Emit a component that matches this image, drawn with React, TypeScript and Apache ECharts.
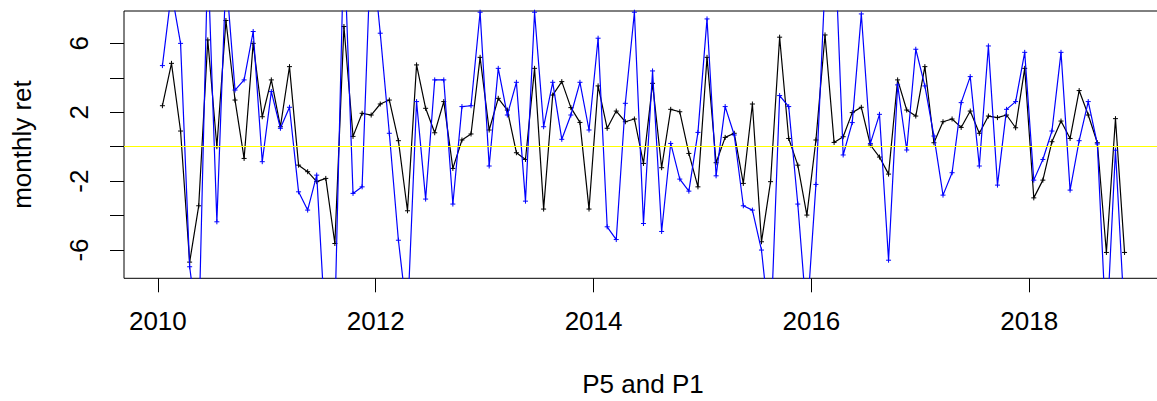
import React, { useEffect, useRef } from "react";
import * as echarts from "echarts";

const START_YEAR = 2010;

// black series (P5), monthly from Jan 2010
const p5: number[] = [
  2.38, 4.84, 0.91, -6.7, -3.43, 6.2, 0.0, 7.33, 2.71, -0.68, 6.0, 1.74,
  3.88, 1.16, 4.65, -1.07, -1.45, -2.03, -1.84, -5.62, 6.98, 0.6, 1.94, 1.84,
  2.48, 2.71, 0.35, -3.72, 4.75, 2.23, 0.81, 2.62, -1.26, 0.39, 0.74, 5.19,
  0.97, 2.81, 2.13, -0.35, -0.74, 4.55, -3.62, 3.0, 3.78, 2.27, 1.41, -3.62,
  3.53, 1.07, 2.07, 1.45, 1.61, -0.97, 3.68, -1.22, 2.17, 2.03, -0.39, -2.33,
  5.19, -0.93, 0.54, 0.78, -2.13, 2.48, -5.52, -2.03, 6.36, 0.48, -1.07, -3.97,
  0.39, 6.49, 0.25, 0.58, 1.98, 2.29, 0.1, -0.6, -1.59, 3.88, 2.13, 1.78,
  4.65, 0.23, 1.45, 1.61, 1.12, 2.07, 0.78, 1.78, 1.69, 1.84, 1.1, 4.55,
  -2.97, -1.94, 0.29, 1.49, 0.48, 3.26, 1.84, 0.23, -6.14, 1.63, -6.14,
];

// blue series (P1)
const p1: number[] = [
  4.71, 9.0, 6.0, -6.97, -11.0, 11.0, -4.36, 10.0, 3.29, 3.88, 6.69, -0.87,
  3.2, 1.07, 2.29, -2.62, -3.68, -1.65, -11.0, -10.0, 12.0, -2.71, -2.33, 12.0,
  6.59, 0.78, -5.43, -10.0, 2.62, -3.04, 3.88, 3.88, -3.33, 2.33, 2.38, 7.81,
  -1.12, 4.55, 1.84, 3.74, -3.16, 7.81, 1.16, 3.74, 0.43, 1.84, 3.74, 0.97,
  6.3, -4.65, -5.39, 2.52, 7.81, -4.46, 4.4, -4.92, 0.19, -1.88, -2.58, 0.83,
  7.42, -1.69, 2.33, 0.68, -3.43, -3.68, -6.0, -11.0, 2.97, 2.33, -3.33, -10.0,
  -2.19, 9.5, 13.0, -0.48, 1.4, 7.71, 0.19, 1.88, -6.59, 3.59, -0.19, 5.66,
  3.53, 0.62, -2.81, -1.51, 2.56, 4.07, -1.12, 5.85, -2.23, 2.17, 2.62, 5.48,
  -1.94, -0.74, 0.91, 5.48, -2.52, 0.35, 2.62, 0.16, -11.0, -0.2, -10.0,
];

const xTicks = [2010, 2012, 2014, 2016, 2018];
const yTicks = [-6, -4, -2, 0, 2, 4, 6];
const yLabels = [-6, -2, 2, 6];

const X_MIN = 2009.689;
const X_MAX = 2019.228;
const Y_MIN = -7.64;
const Y_MAX = 7.88;

const FONT = "'Liberation Sans', Arial, sans-serif";

const toPoints = (arr: number[]) =>
  arr.map((v, i) => [START_YEAR + (i + 0.5) / 12, v]);

const plusSymbol = "path://M5,0L5,10M0,5L10,5";

export default function App() {
  const ref = useRef<HTMLDivElement>(null);

  useEffect(() => {
    if (!ref.current) return;
    const chart = echarts.init(ref.current, null, { renderer: "svg" });
    chart.setOption({
      animation: false,
      backgroundColor: "#ffffff",
      grid: {
        left: 124,
        top: 11,
        width: 1039,
        height: 267.3,
        show: true,
        borderColor: "#000",
        borderWidth: 1,
        backgroundColor: "transparent",
        containLabel: false,
        outerBoundsMode: "none",
      },
      xAxis: {
        type: "value",
        min: X_MIN,
        max: X_MAX,
        position: "bottom",
        axisLine: { show: false, onZero: false },
        splitLine: { show: false },
        axisTick: {
          show: true,
          length: 14,
          customValues: xTicks,
          lineStyle: { color: "#000", width: 1 },
        },
        axisLabel: {
          customValues: xTicks,
          fontSize: 26,
          fontFamily: FONT,
          color: "#000",
          margin: 30,
          formatter: (v: number) => String(Math.round(v)),
        },
      },
      yAxis: {
        type: "value",
        min: Y_MIN,
        max: Y_MAX,
        position: "left",
        axisLine: { show: false, onZero: false },
        splitLine: { show: false },
        axisTick: {
          show: true,
          length: 14,
          customValues: yTicks,
          lineStyle: { color: "#000", width: 1 },
        },
        axisLabel: {
          customValues: yLabels,
          fontSize: 26,
          fontFamily: FONT,
          color: "#000",
          rotate: 90,
          margin: 32,
          formatter: (v: number) => String(Math.round(v)),
        },
      },
      graphic: [
        {
          type: "text",
          x: 22,
          y: 144.5,
          rotation: Math.PI / 2,
          style: {
            text: "monthly ret",
            fontSize: 26,
            fontFamily: FONT,
            fill: "#000",
            align: "center",
            verticalAlign: "middle",
          },
        },
        {
          type: "text",
          x: 643,
          y: 384,
          style: {
            text: "P5 and P1",
            fontSize: 26,
            fontFamily: FONT,
            fill: "#000",
            align: "center",
            verticalAlign: "middle",
          },
        },
      ],
      series: [
        {
          name: "P5",
          type: "line",
          data: toPoints(p5),
          symbol: plusSymbol,
          symbolSize: 5,
          showSymbol: true,
          clip: true,
          lineStyle: { color: "#000", width: 1.2 },
          itemStyle: { color: "#000", borderColor: "#000", borderWidth: 1 },
          z: 2,
        },
        {
          name: "P1",
          type: "line",
          data: toPoints(p1),
          symbol: plusSymbol,
          symbolSize: 5,
          showSymbol: true,
          clip: true,
          lineStyle: { color: "#0000ff", width: 1.2 },
          itemStyle: { color: "#0000ff", borderColor: "#0000ff", borderWidth: 1 },
          z: 3,
        },
        {
          name: "zero",
          type: "line",
          data: [],
          z: 4,
          markLine: {
            silent: true,
            symbol: ["none", "none"],
            label: { show: false },
            lineStyle: { color: "#ffff00", type: "solid", width: 1.2 },
            data: [{ yAxis: 0 }],
          },
        },
      ],
    });
    return () => chart.dispose();
  }, []);

  return (
    <div
      ref={ref}
      style={{ position: "absolute", left: 0, top: 0, width: 1157, height: 401 }}
    />
  );
}
